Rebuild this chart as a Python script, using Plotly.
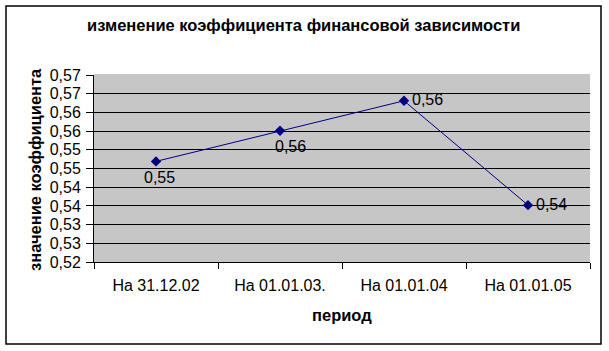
import plotly.graph_objects as go

categories = ["На 31.12.02", "На 01.01.03.", "На 01.01.04", "На 01.01.05"]
values = [0.5469, 0.5551, 0.5631, 0.5352]
y_tickvals = [0.52, 0.525, 0.53, 0.535, 0.54, 0.545, 0.55, 0.555, 0.56, 0.565, 0.57]
y_ticktext = ["0,52", "0,53", "0,53", "0,54", "0,54", "0,55", "0,55", "0,56", "0,56", "0,57", "0,57"]
title_text = "изменение коэффициента финансовой зависимости"
x_title = "период"
y_title = "значение коэффициента"

# label placement per point (style only)
label_anchor = [("center", "top"), ("center", "top"), ("left", "middle"), ("left", "middle")]
label_shift = [(3, -6), (10, -5), (6, 1), (6, 1)]

FONT = "Liberation Sans, Arial, sans-serif"
NAVY = "#000080"
BG = "#c6c6c6"

fig = go.Figure()
fig.add_trace(go.Scatter(
    x=categories, y=values, mode="lines+markers",
    line=dict(color=NAVY, width=1),
    marker=dict(symbol="diamond", size=8, color=NAVY),
    hoverinfo="skip", showlegend=False,
))

def fmt(v):
    return f"{v:.2f}".replace(".", ",")

annotations = []
for c, v, (xa, ya), (dx, dy) in zip(categories, values, label_anchor, label_shift):
    annotations.append(dict(
        x=c, y=v, xref="x", yref="y", text=fmt(v), showarrow=False,
        xanchor=xa, yanchor=ya, xshift=dx, yshift=dy,
        font=dict(family=FONT, size=16, color="#000000"),
    ))

fig.update_layout(
    width=609, height=351,
    margin=dict(l=94, r=19, t=75, b=89),
    paper_bgcolor="#ffffff", plot_bgcolor=BG,
    font=dict(family=FONT, size=16, color="#000000"),
    showlegend=False,
)

pw, ph = 609 - 94 - 19, 351 - 75 - 89
def px_to_paper(px, py):
    return (px - 94) / pw, (351 - 89 - py) / ph

tx0, ty0 = px_to_paper(303, 25)
annotations.append(dict(
    x=tx0, y=ty0, xref="paper", yref="paper", text=f"<b>{title_text}</b>",
    showarrow=False, xanchor="center", yanchor="middle",
    font=dict(family=FONT, size=16.5, color="#000000"),
))
tx, ty = px_to_paper(342, 315)
annotations.append(dict(
    x=tx, y=ty, xref="paper", yref="paper", text=f"<b>{x_title}</b>",
    showarrow=False, xanchor="center", yanchor="middle",
    font=dict(family=FONT, size=16.5, color="#000000"),
))
yx, yy = px_to_paper(35, 170)
annotations.append(dict(
    x=yx, y=yy, xref="paper", yref="paper", text=f"<b>{y_title}</b>",
    showarrow=False, xanchor="center", yanchor="middle", textangle=-90,
    font=dict(family=FONT, size=16.5, color="#000000"),
))
fig.update_layout(annotations=annotations)

fig.update_xaxes(
    type="category", range=[-0.5, len(categories) - 0.5],
    showgrid=False, showline=True, linecolor="#000000", linewidth=1,
    ticks="outside", tickson="boundaries", ticklen=6, tickcolor="#000000",
    tickfont=dict(family=FONT, size=16, color="#000000"),
    ticklabelstandoff=9,
    zeroline=False, fixedrange=True,
)
fig.update_yaxes(
    range=[0.52, 0.57], tickvals=y_tickvals, ticktext=y_ticktext,
    showgrid=True, gridcolor="#000000", gridwidth=1,
    showline=True, linecolor="#000000", linewidth=1,
    ticks="outside", ticklen=7, tickcolor="#000000",
    tickfont=dict(family=FONT, size=16, color="#000000"),
    ticklabelstandoff=2,
    zeroline=False, fixedrange=True,
)

# outer chart border
bx0, by0 = px_to_paper(6, 6)
bx1, by1 = px_to_paper(601, 344)
fig.add_shape(type="rect", xref="paper", yref="paper", x0=bx0, y0=by1, x1=bx1, y1=by0,
              line=dict(color="#000000", width=1.5), layer="above")
# top edge of plot area is not a black gridline in the reference
fig.add_shape(type="line", xref="paper", yref="paper", x0=0, x1=1, y0=1, y1=1,
              line=dict(color=BG, width=2), layer="above")

fig.write_html("out.html")
